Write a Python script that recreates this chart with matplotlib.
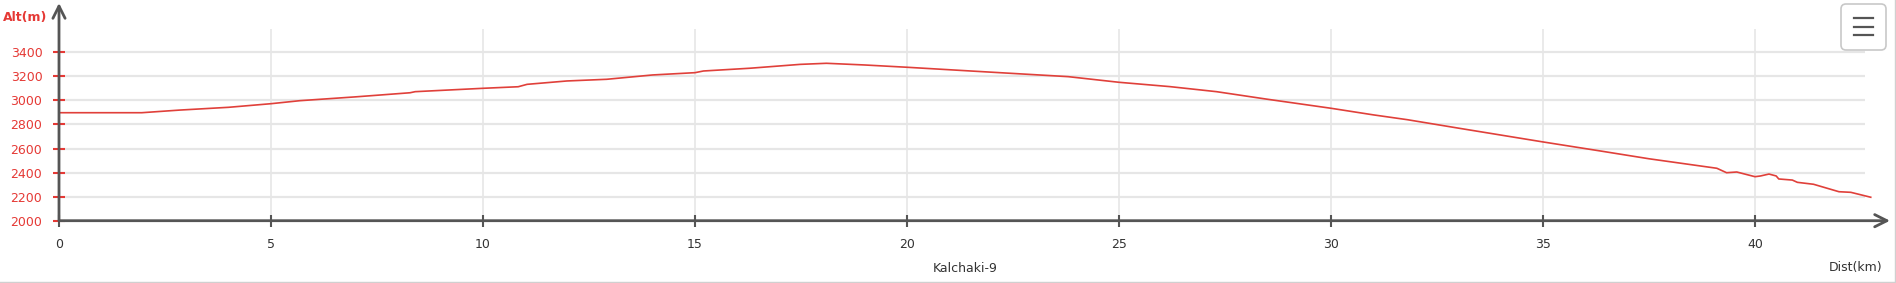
import matplotlib
matplotlib.use("Agg")
from matplotlib import pyplot as plt
from matplotlib.patches import FancyBboxPatch
from matplotlib.lines import Line2D
from matplotlib.transforms import IdentityTransform

# profile
dist_km = [0, 1.95, 2.85, 4.0, 5.0, 5.68, 7.0, 8.28, 8.4, 10.0, 10.83, 11.04,
           11.98, 12.92, 14.0, 15.0, 15.2, 16.3, 17.48, 18.1, 19.0, 20.0, 21.5,
           23.8, 25.0, 26.2, 27.3, 28.5, 30.0, 31.0, 31.8, 33.0, 35.0, 36.35,
           37.5, 39.1, 39.33, 39.57, 40.0, 40.13, 40.33, 40.5, 40.56, 40.88,
           41.0, 41.38, 41.98, 42.26, 42.73]
alt_m = [2898, 2898, 2920, 2943, 2973, 2998, 3030, 3064, 3073, 3101, 3114, 3134,
         3162, 3176, 3212, 3231, 3245, 3268, 3300, 3309, 3295, 3276, 3245,
         3198, 3151, 3115, 3073, 3010, 2935, 2880, 2840, 2770, 2655, 2580,
         2515, 2436, 2399, 2405, 2366, 2372, 2388, 2372, 2347, 2338,
         2319, 2303, 2241, 2236, 2195]
x_ticks = [0, 5, 10, 15, 20, 25, 30, 35, 40]
y_ticks = [2000, 2200, 2400, 2600, 2800, 3000, 3200, 3400]
track_name = "Kalchaki-9"

RED = "#e53935"
AXIS = "#555555"
GRID = "#e6e6e6"

W, H = 1896, 283
fig = plt.figure(figsize=(W / 100, H / 100), dpi=100)

# axes placed in pixels: 0 km at x=59, 42.4 px per km; 2000 m at y=220.7, 8.316 m per px
x0, x1 = 59, 1890
y0, y1 = 220.7, 3
ax = fig.add_axes([x0 / W, (H - y0) / H, (x1 - x0) / W, (y0 - y1) / H])
ax.set_xlim(0, (x1 - x0) / 42.4)
ax.set_ylim(2000, 2000 + (y0 - y1) * 8.316)
for s in ax.spines.values():
    s.set_visible(False)

# grid
grid_xmax = (1865 - x0) / 42.4
grid_ytop = 2000 + (y0 - 29) * 8.316
ax.hlines(y_ticks[1:], 0, grid_xmax, color=GRID, lw=1.6, zorder=1)
ax.vlines(x_ticks[1:], 2000, grid_ytop, color=GRID, lw=1.2, zorder=1)

ax.plot(dist_km, alt_m, color="#e0403a", lw=1.2, zorder=3)

# axes with open arrowheads
ax.annotate("", xy=(0, 1), xytext=(0, 0), xycoords="axes fraction",
            arrowprops=dict(arrowstyle="->", color=AXIS, lw=2, mutation_scale=22,
                            shrinkA=0, shrinkB=0), zorder=4)
ax.annotate("", xy=(1, 0), xytext=(0, 0), xycoords="axes fraction",
            arrowprops=dict(arrowstyle="->", color=AXIS, lw=2, mutation_scale=22,
                            shrinkA=0, shrinkB=0), zorder=4)

ax.set_xticks(x_ticks)
ax.set_yticks(y_ticks)
ax.tick_params(axis="x", direction="inout", length=9, width=1.5, color=AXIS,
               labelcolor="#333333", labelsize=9, pad=8)
ax.tick_params(axis="y", direction="inout", length=8, width=1.5, color=RED,
               labelcolor=RED, labelsize=9, pad=8)

fig.text(965 / W, 1 - 268 / H, track_name, ha="center", va="center",
         fontsize=9, color="#333333")
fig.text(1882 / W, 1 - 268 / H, "Dist(km)", ha="right", va="center",
         fontsize=9, color="#333333")
fig.text(3 / W, 1 - 17 / H, "Alt(m)", ha="left", va="center",
         fontsize=9, color=RED, fontweight="bold")

# menu button, drawn in pixel units
btn = FancyBboxPatch((1841, H - 50), 45, 46,
                     boxstyle="round,pad=0,rounding_size=5",
                     transform=IdentityTransform(), facecolor="white",
                     edgecolor="#c8c8c8", lw=1.2)
fig.patches.append(btn)
for yy in (18.3, 26.7, 35):
    fig.lines.append(Line2D([1854 / W, 1873 / W], [1 - yy / H, 1 - yy / H],
                            transform=fig.transFigure, color=AXIS, lw=1.6))

# frame edges
fig.lines.append(Line2D([0, 1], [1 - 281.5 / H] * 2, transform=fig.transFigure,
                        color="#d0d0d0", lw=1))
fig.lines.append(Line2D([1 - 1.5 / W] * 2, [0, 1], transform=fig.transFigure,
                        color="#d0d0d0", lw=1))

fig.savefig("out.png", dpi=100)
